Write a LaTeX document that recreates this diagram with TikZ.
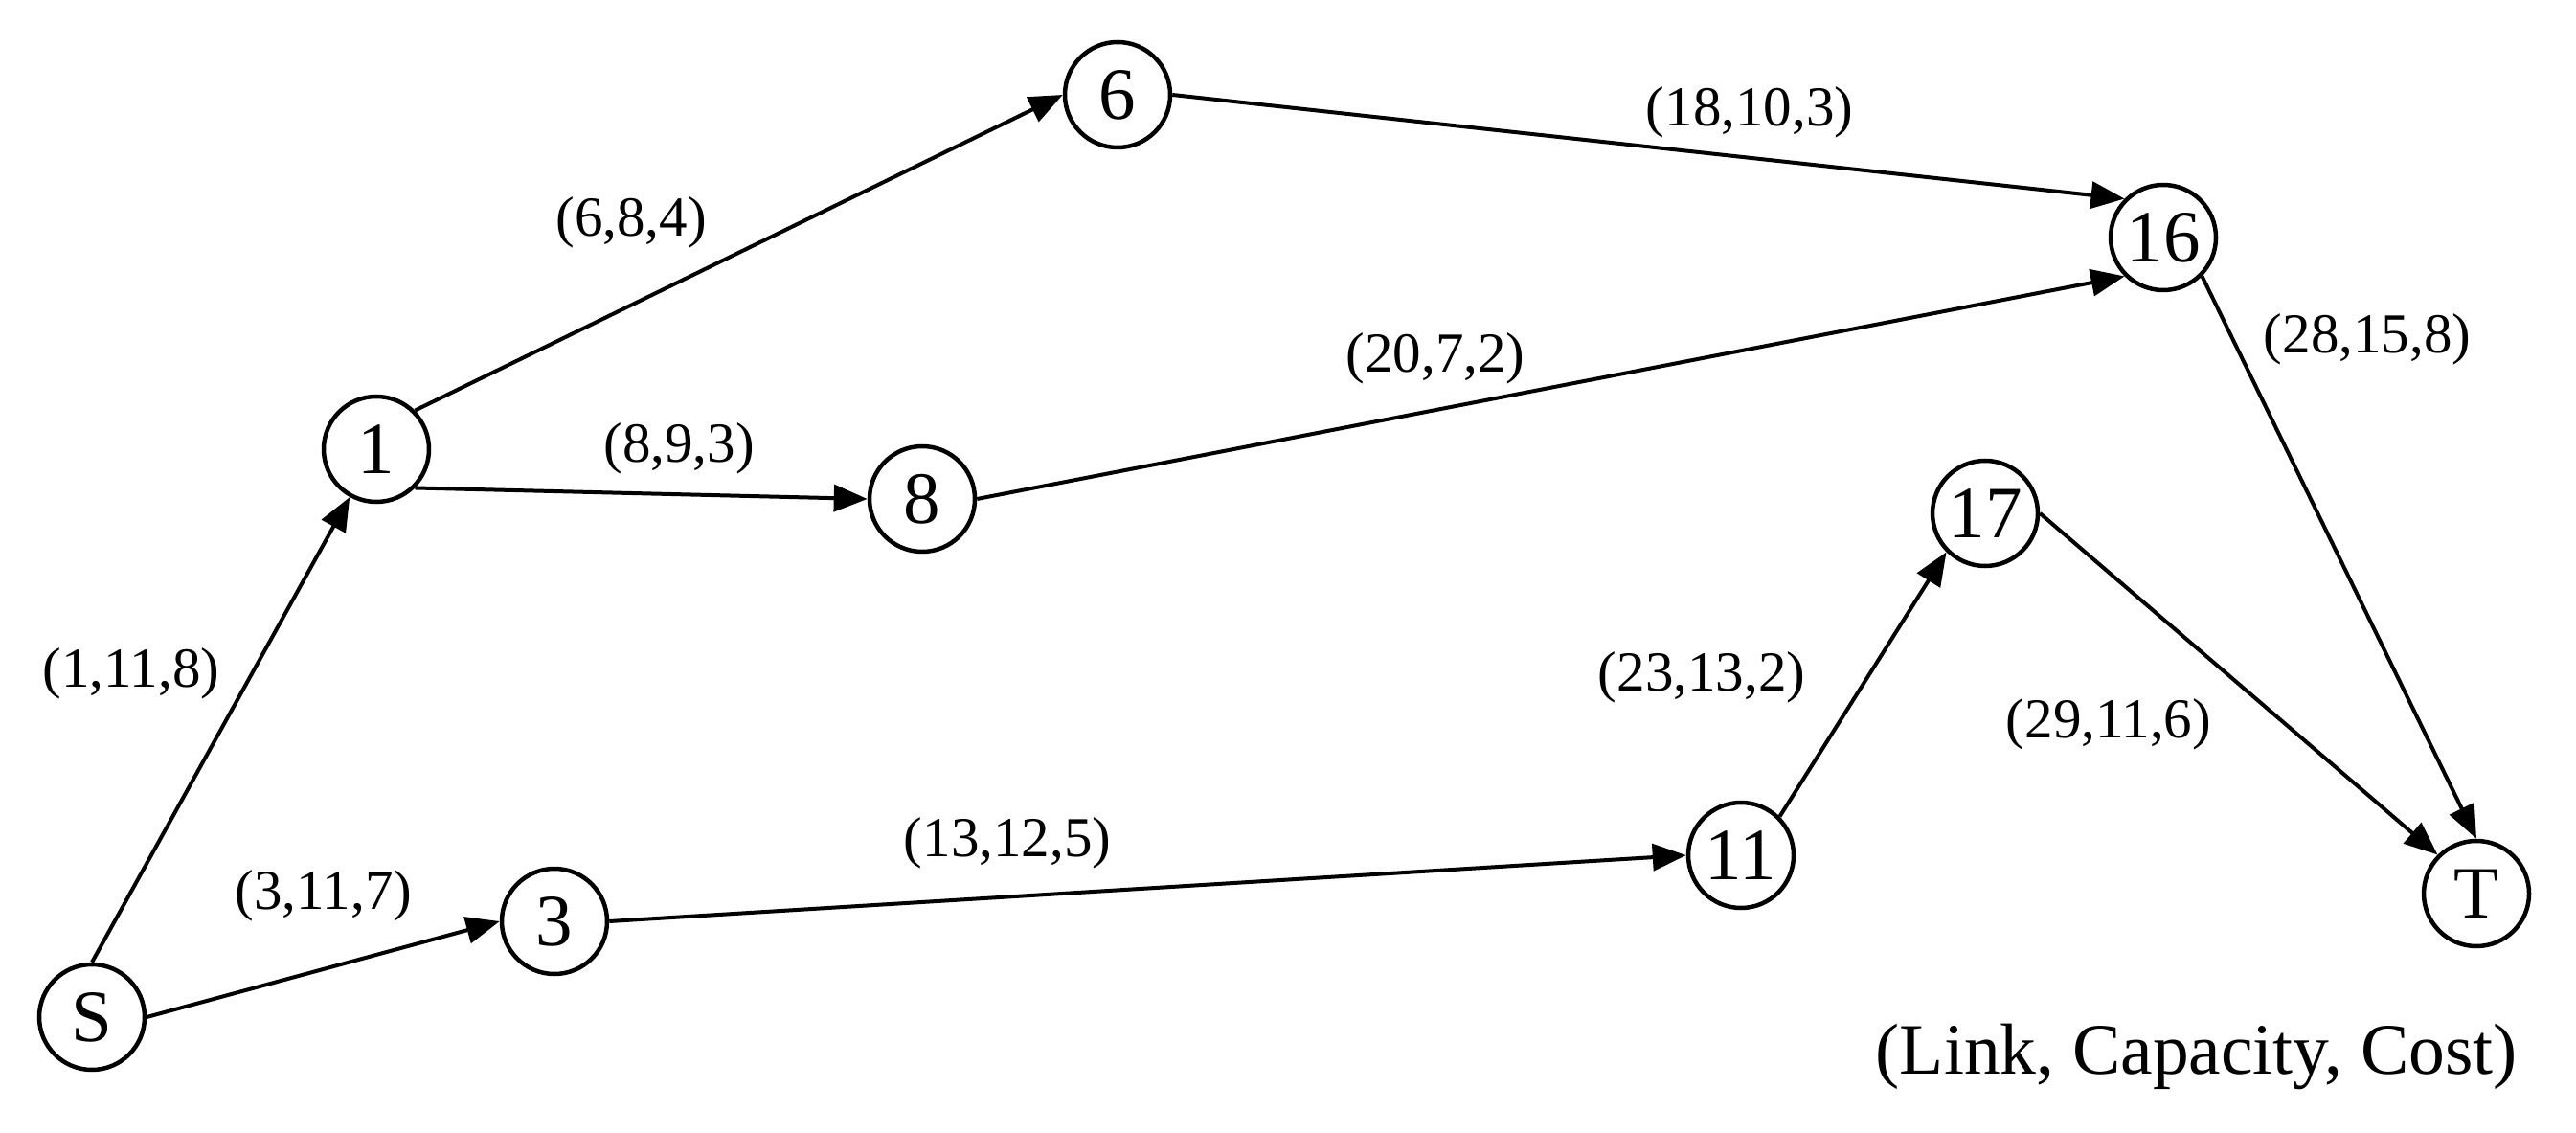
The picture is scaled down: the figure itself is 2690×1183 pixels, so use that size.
\documentclass[tikz,border=0pt]{standalone}
\usepackage{fontspec}
\setmainfont{Liberation Serif}
\usetikzlibrary{arrows.meta}
\tikzset{
  vertex/.style={circle, draw=black, line width=0.9pt, minimum size=22pt, inner sep=0pt, font=\fontsize{15.4}{18}\selectfont},
  edgelabel/.style={inner sep=0pt, font=\fontsize{11.8}{14}\selectfont},
  legendtext/.style={inner sep=0pt, anchor=east, font=\fontsize{15.1}{18}\selectfont},
  link/.style={line width=0.8pt, -{Triangle[length=7pt,width=5.6pt]}}
}
\begin{document}
\begin{tikzpicture}[x=0.2pt, y=-0.2pt]
\useasboundingbox (0,0) rectangle (2690,1183);
% nodes
\node[vertex] (S) at (96,1062) {S};
\node[vertex] (n1) at (393,469) {1};
\node[vertex] (n3) at (579,962) {3};
\node[vertex] (n6) at (1167,99) {6};
\node[vertex] (n8) at (963,521) {8};
\node[vertex] (n11) at (1818,893) {11};
\node[vertex] (n16) at (2259,248) {16};
\node[vertex] (n17) at (2073,536) {17};
\node[vertex] (T) at (2586,933) {T};
% edges
\draw[link] (S.north) -- (n1);
\draw[link] (S.east) -- (n3.west);
\draw[link] (n1.north east) -- (n6.west);
\draw[link] (n1.south east) -- (n8.west);
\draw[link] (n6.east) -- (n16.north west);
\draw[link] (n8.east) -- (n16.south west);
\draw[link] (n3.east) -- (n11.west);
\draw[link] (n11.north east) -- (n17.south west);
\draw[link] (n17.east) -- (T.north west);
\draw[link] (n16.south east) -- (T.north);
% labels
\node[edgelabel] (l1) at (659,232) {(6,8,4)};
\node[edgelabel] (l2) at (709,468) {(8,9,3)};
\node[edgelabel] (l3) at (1827,117) {(18,10,3)};
\node[edgelabel] (l4) at (1499,374) {(20,7,2)};
\node[edgelabel] (l5) at (2472,354) {(28,15,8)};
\node[edgelabel] (l6) at (137,703) {(1,11,8)};
\node[edgelabel] (l7) at (1777,707) {(23,13,2)};
\node[edgelabel] (l8) at (2202,756) {(29,11,6)};
\node[edgelabel] (l9) at (338,935) {(3,11,7)};
\node[edgelabel] (l10) at (1052,880) {(13,12,5)};
\node[legendtext] (legend) at (2630,1103) {(Link, Capacity, Cost)};
\end{tikzpicture}
\end{document}
